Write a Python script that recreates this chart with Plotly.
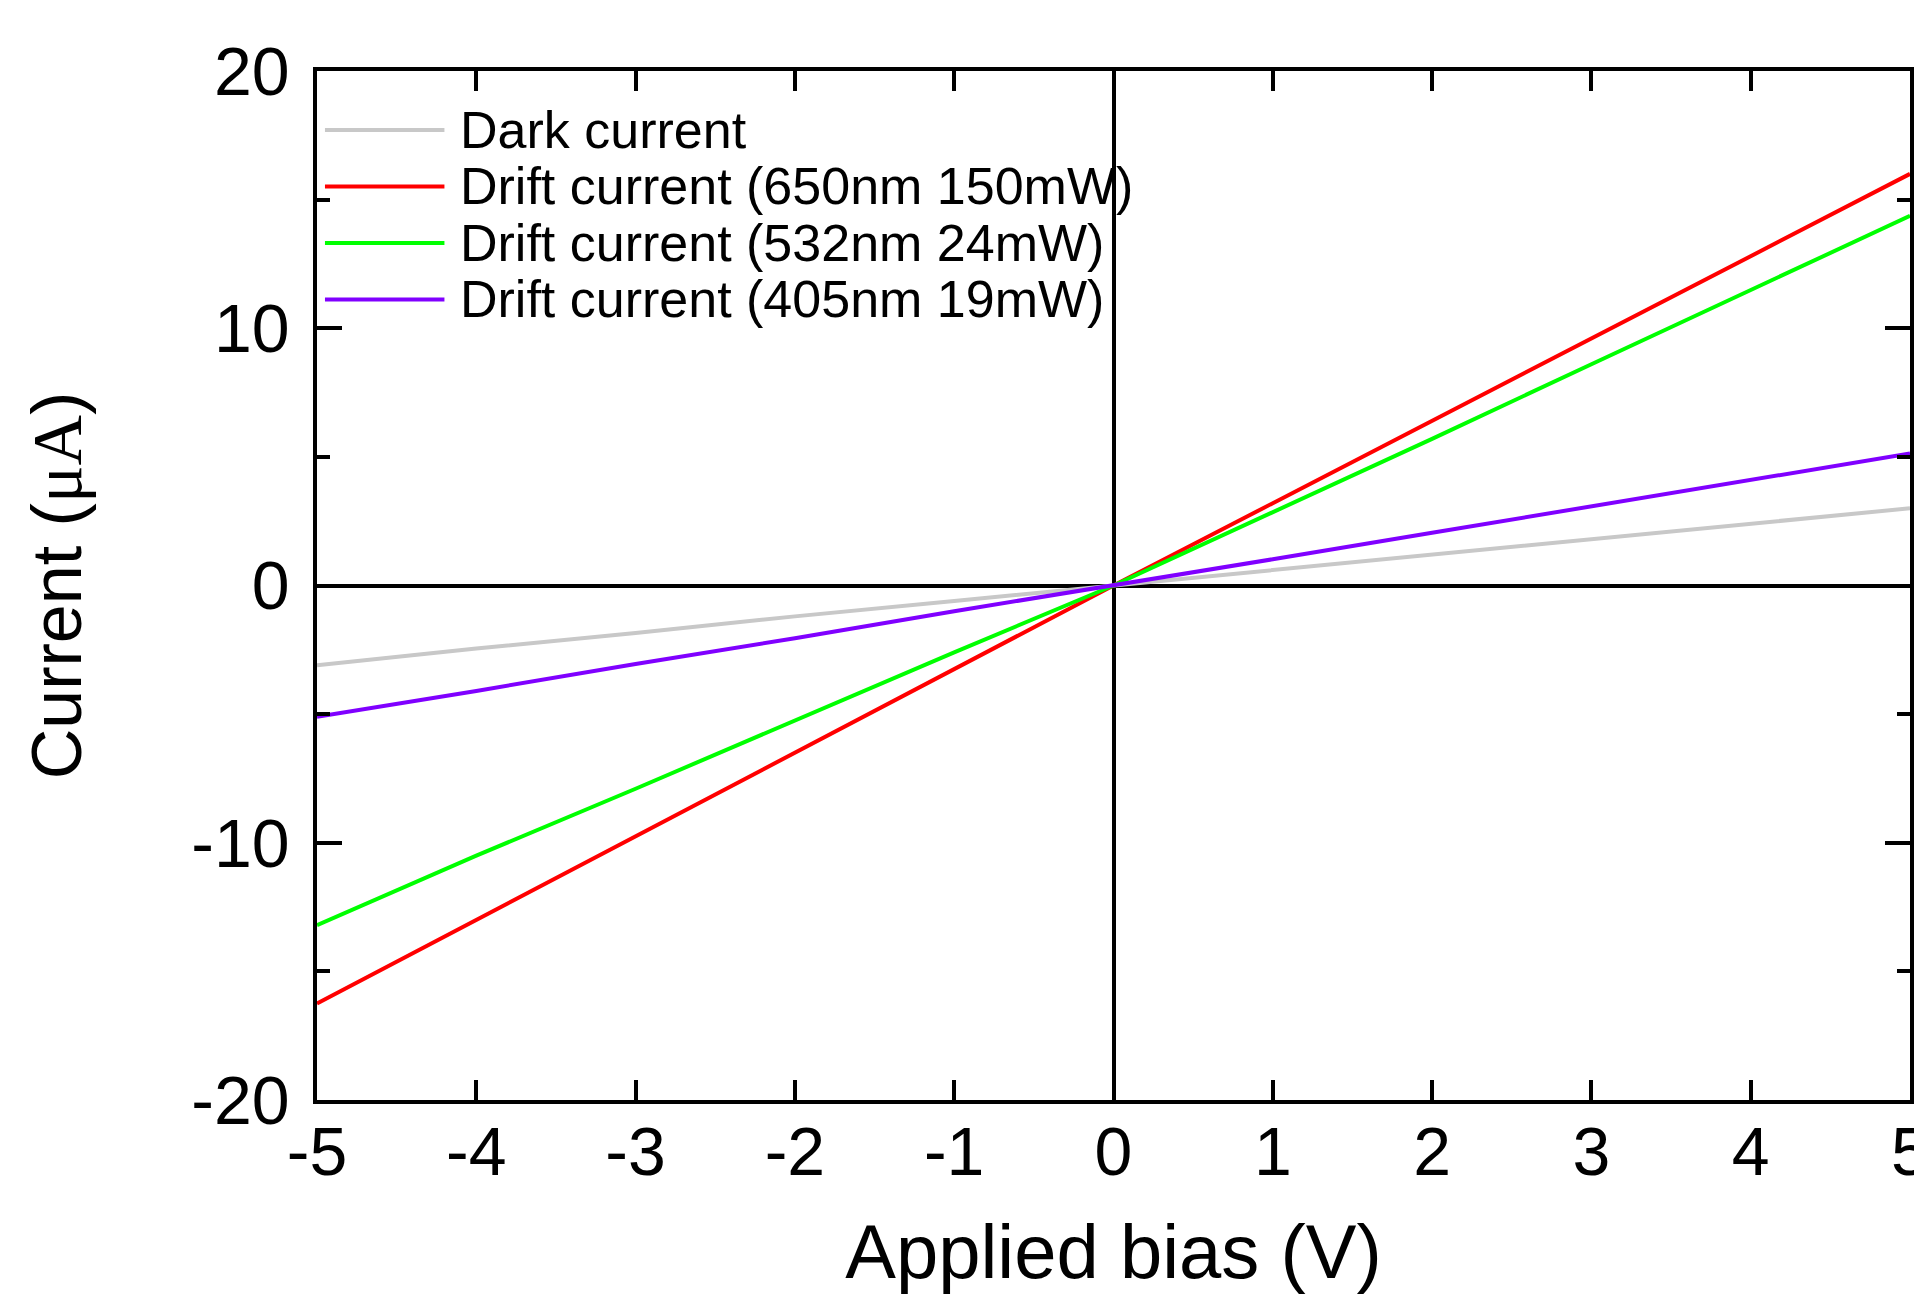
import plotly.graph_objects as go

# Data
bias_v = [-5, -4, -3, -2, -1, 0, 1, 2, 3, 4, 5]
dark_current = [-3.1, -2.45, -1.85, -1.2, -0.6, 0, 0.6, 1.2, 1.8, 2.4, 3.0]
drift_650 = [-16.25, -13.0, -9.75, -6.5, -3.25, 0, 3.2, 6.4, 9.6, 12.8, 16.0]
drift_532 = [-13.2, -10.5, -7.9, -5.25, -2.6, 0, 2.85, 5.7, 8.6, 11.5, 14.37]
drift_405 = [-5.1, -4.1, -3.05, -2.05, -1.0, 0, 1.02, 2.05, 3.08, 4.1, 5.13]

series_names = ["Dark current", "Drift current (650nm 150mW)",
                "Drift current (532nm 24mW)", "Drift current (405nm 19mW)"]
series_values = [dark_current, drift_650, drift_532, drift_405]
series_colors = ["#c8c8c8", "#ff0000", "#00ff00", "#8000ff"]

x_ticks = [-5, -4, -3, -2, -1, 0, 1, 2, 3, 4, 5]
y_ticks = [-20, -10, 0, 10, 20]

FONT = "Liberation Sans, Arial, sans-serif"

fig = go.Figure()
for name, vals, col in zip(series_names, series_values, series_colors):
    fig.add_trace(go.Scatter(x=bias_v, y=vals, mode="lines", name=name,
                             line=dict(color=col, width=4), showlegend=False))

# Manual legend (long line samples like the reference)
leg_y0 = 0.9427
leg_dy = 0.0549
for i, (name, col) in enumerate(zip(series_names, series_colors)):
    yy = leg_y0 - i * leg_dy
    fig.add_shape(type="line", xref="paper", yref="paper",
                  x0=0.005, x1=0.080, y0=yy, y1=yy,
                  line=dict(color=col, width=4))
    fig.add_annotation(xref="paper", yref="paper", x=0.0885, y=yy,
                       text=name, showarrow=False, xanchor="left", yanchor="middle",
                       font=dict(family=FONT, size=52, color="black"))

axis_common = dict(showline=True, linecolor="black", linewidth=3.5, mirror="ticks",
                   ticks="inside", tickcolor="black", tickwidth=3.5,
                   showgrid=False, zeroline=True, zerolinecolor="black",
                   zerolinewidth=3.5, ticklabeloverflow="allow",
                   tickfont=dict(family=FONT, size=68, color="black"))

fig.update_xaxes(range=[-5, 5], tickvals=x_ticks, ticktext=[str(v) for v in x_ticks],
                 ticklen=20, ticklabelstandoff=-10,
                 title=dict(text="Applied bias (V)", standoff=38,
                            font=dict(family=FONT, size=76, color="black")),
                 **axis_common)
fig.update_yaxes(range=[-20, 20], tickvals=y_ticks, ticktext=[str(v) for v in y_ticks],
                 ticklen=25, ticklabelstandoff=10,
                 minor=dict(dtick=5, ticks="inside", ticklen=13, tickwidth=3.5,
                            tickcolor="black", showgrid=False),
                 title=dict(text="Current (<span style='font-family:Liberation Serif, Times New Roman, serif'>μA</span>)",
                            standoff=88,
                            font=dict(family=FONT, size=70, color="black")),
                 **axis_common)

fig.update_layout(width=1914, height=1294,
                  margin=dict(l=317, r=4, t=71, b=194, autoexpand=False),
                  paper_bgcolor="white", plot_bgcolor="white",
                  showlegend=False)

fig.write_html("out.html", config={"displayModeBar": False},
               post_script="document.body.style.margin='0';document.body.style.overflow='hidden';")
